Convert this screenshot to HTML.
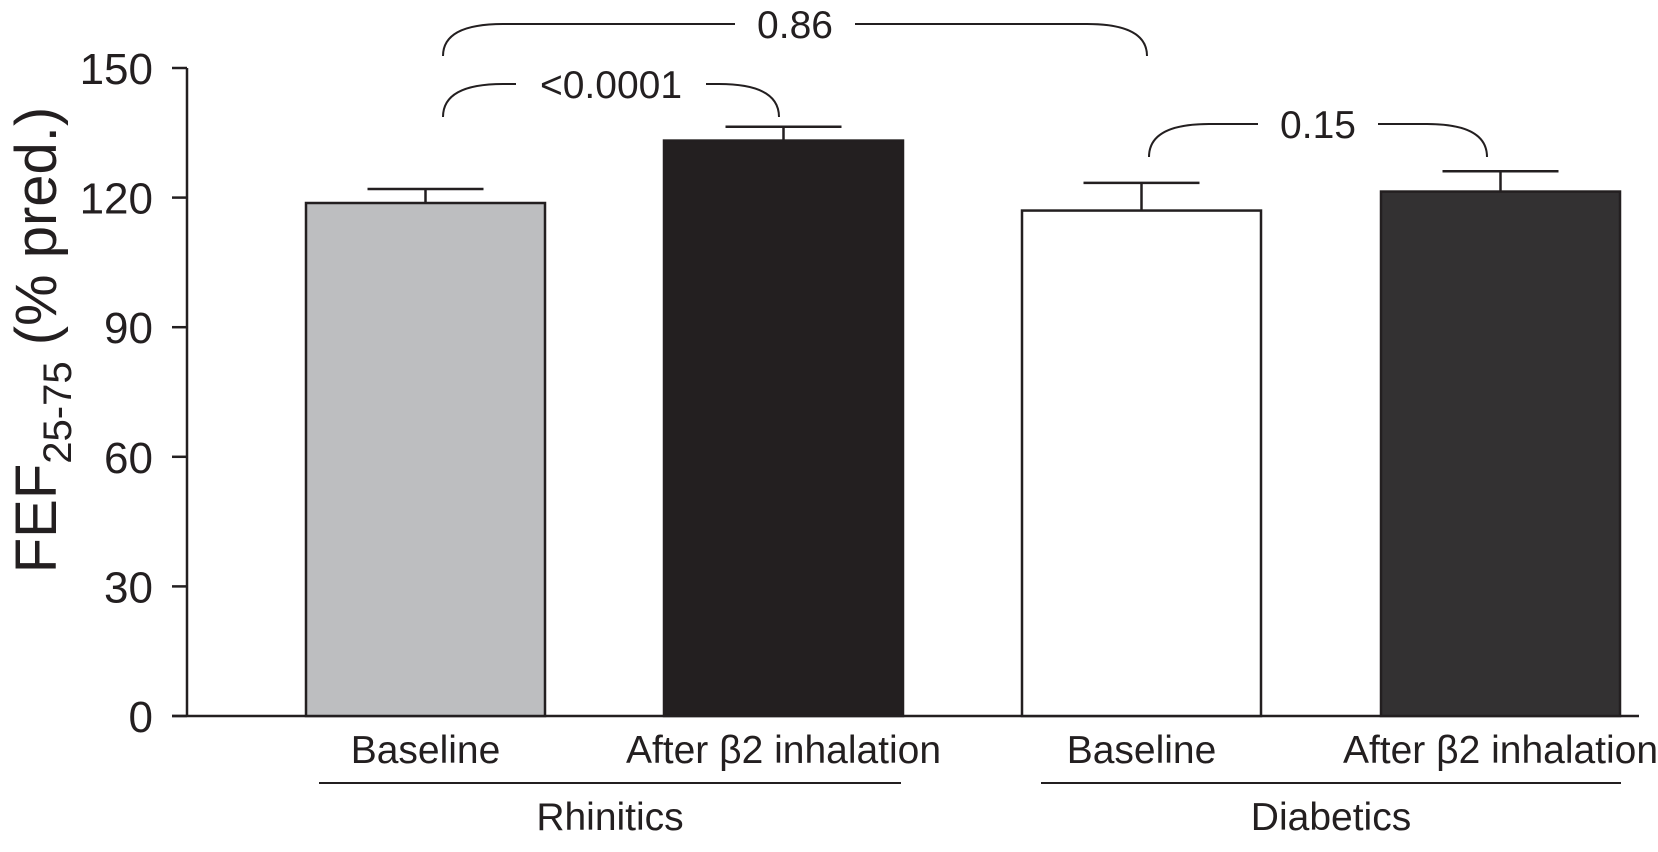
<!DOCTYPE html>
<html><head><meta charset="utf-8"><style>
html,body{margin:0;padding:0;background:#fff;}
svg{display:block;font-family:"Liberation Sans",Arial,sans-serif;}
</style></head><body>
<svg id="chart" width="1658" height="852" viewBox="0 0 1658 852"></svg>
<script>
const categories = ["Baseline","After \u03b22 inhalation","Baseline","After \u03b22 inhalation"];
const values = [118.75, 133.2, 117.0, 121.4];
const errors = [3.25, 3.2, 6.4, 4.7];
const yTicks = [0,30,60,90,120,150];
const groups = ["Rhinitics","Diabetics"];
const pvalues = ["0.86","<0.0001","0.15"];

const svg = document.getElementById('chart');
const NS = 'http://www.w3.org/2000/svg';
const y0 = 716, y150 = 68;
function ys(v){ return y0 - (v/150)*(y0-y150); }
const barLeft = [306, 664, 1022, 1381], barW = 239;
const fills = ['#bdbec0','#231f20','#ffffff','#333132'];
function mk(tag, attrs, parent){ const e=document.createElementNS(NS,tag); for(const k in attrs) e.setAttribute(k, attrs[k]); (parent||svg).appendChild(e); return e; }

let ax = mk('line',{x1:187,y1:y150,x2:187,y2:y0,stroke:'#231f20','stroke-width':2.5});
 
let xa = mk('line',{x1:172,y1:y0,x2:1639,y2:y0,stroke:'#231f20','stroke-width':2.5});
 
yTicks.forEach(t=>{
  const y=ys(t);
  const tk=mk('line',{x1:172,y1:y,x2:187,y2:y,stroke:'#231f20','stroke-width':2.5});
   
  const tl=mk('text',{x:153,y:y+16,'text-anchor':'end','font-size':44,fill:'#231f20'});
  tl.textContent=t;
   
});
const yt = mk('text',{transform:'translate(56,340) rotate(-90)','text-anchor':'middle','font-size':58,fill:'#231f20'});
 
yt.innerHTML='FEF<tspan font-size="40" dy="15">25-75</tspan><tspan dy="-15"> (% pred.)</tspan>';

values.forEach((v,i)=>{
  const x=barLeft[i], top=ys(v), cx=x+barW/2, et=ys(v+errors[i]);
  const eb=mk('line',{x1:cx,y1:top,x2:cx,y2:et,stroke:'#231f20','stroke-width':2.5});
   
  const ec=mk('line',{x1:cx-58,y1:et,x2:cx+58,y2:et,stroke:'#231f20','stroke-width':2.5});
   
  const r=mk('rect',{x:x,y:top,width:barW,height:y0-top,fill:fills[i],stroke:'#231f20','stroke-width':2.5});
   
  const l=mk('text',{x:cx,y:763,'text-anchor':'middle','font-size':39,fill:'#231f20'});
  l.textContent=categories[i];
   
});
[[319,901],[1041,1621]].forEach((g,i)=>{
  const gl=mk('line',{x1:g[0],y1:783,x2:g[1],y2:783,stroke:'#231f20','stroke-width':2});
   
  const gt=mk('text',{x:(g[0]+g[1])/2,y:830,'text-anchor':'middle','font-size':39,fill:'#231f20'});
  gt.textContent=groups[i];
   
});
function bracket(x1,x2,top,bot,label,tw,name){
  const cx=(x1+x2)/2, r=30;
  const p=mk('path',{d:`M${x1},${bot} Q${x1},${top} ${x1+r*2},${top} L${cx-tw/2},${top} M${cx+tw/2},${top} L${x2-r*2},${top} Q${x2},${top} ${x2},${bot}`,fill:'none',stroke:'#231f20','stroke-width':2});
   
  const t=mk('text',{x:cx,y:top+14,'text-anchor':'middle','font-size':39,fill:'#231f20'});
  t.textContent=label;
   
}
bracket(443,1147,24,56,pvalues[0],120,'rhinitis-vs-diabetes');
bracket(443,779,84,117,pvalues[1],190,'rhinitis');
bracket(1149,1487,124,157,pvalues[2],120,'diabetes');
</script>
</body></html>
